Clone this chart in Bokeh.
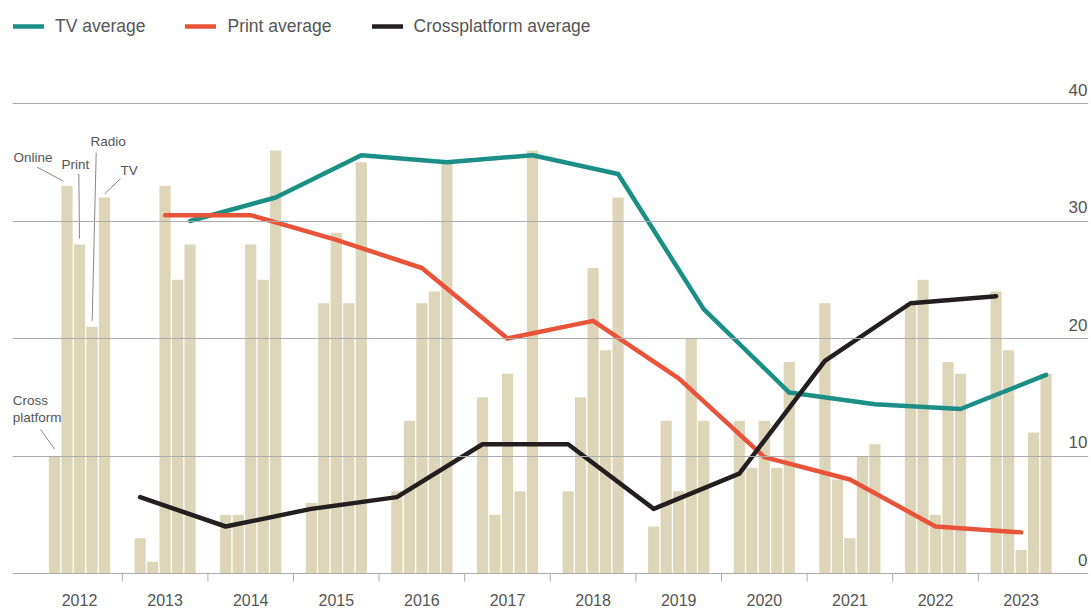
from bokeh.plotting import figure
from bokeh.models import (ColumnDataSource, Range1d, FixedTicker, Grid, Legend, LegendItem)
from bokeh.core.properties import value
from bokeh.embed import file_html
from bokeh.resources import INLINE

# ---------------- data ----------------
years = ["2012", "2013", "2014", "2015", "2016", "2017", "2018", "2019", "2020", "2021", "2022", "2023"]
categories = ["Cross platform", "Online", "Print", "Radio", "TV"]

cross_platform = [10, 3, 5, 6, 7, 15, 7, 4, 13, 23, 23, 24]
online = [33, 1, 5, 23, 13, 5, 15, 13, 9, 8, 25, 19]
print_vals = [28, 33, 28, 29, 23, 17, 26, 7, 13, 3, 5, 2]
radio = [21, 25, 25, 23, 24, 7, 19, 20, 9, 10, 18, 12]
tv = [32, 28, 36, 35, 35, 36, 32, 13, 18, 11, 17, 17]

line_years = ["2013", "2014", "2015", "2016", "2017", "2018", "2019", "2020", "2021", "2022", "2023"]
tv_average = [30.0, 32.0, 35.6, 35.0, 35.6, 34.0, 22.5, 15.4, 14.4, 14.0, 16.9]
print_average = [30.5, 30.5, 28.4, 26.0, 20.0, 21.5, 16.6, 9.9, 8.0, 4.0, 3.5]
crossplatform_average = [6.5, 4.0, 5.5, 6.5, 11.0, 11.0, 5.5, 8.5, 18.1, 23.0, 23.6]

y_ticks = [0, 10, 20, 30, 40]
y_tick_labels = ["0", "10", "20", "30", "40"]

# ---------------- styles ----------------
BAR = "#ddd5b8"
GRID = "#ababab"
TXT = "#555555"
TEAL = "#1b8f85"
RED = "#e9533a"
BLACK = "#231f20"
FONT = "Liberation Sans"

W, H = 1091, 611
LEFT, RIGHT = 12, 3
px_per_year = 85.6
x_center0 = 79                       # canvas x of first year centre
x0 = (LEFT - x_center0) / px_per_year
x1 = (W - RIGHT - x_center0) / px_per_year
base_px, top_px = 573, 103           # canvas y of 0 and 40
scale = (base_px - top_px) / 40.0
y_top = 40 + top_px / scale
y_bot = -(H - base_px) / scale

p = figure(width=W, height=H, output_backend="svg", toolbar_location=None,
           x_range=Range1d(x0, x1), y_range=Range1d(y_bot, y_top),
           x_axis_location=None, y_axis_location=None,
           min_border_left=LEFT, min_border_right=RIGHT, min_border_top=0, min_border_bottom=0)
p.outline_line_color = None
p.background_fill_color = "white"
p.border_fill_color = "white"
for g in p.grid:
    g.visible = False

# ---------------- bars ----------------
step = 12.5 / px_per_year
bw = 11.2 / px_per_year
series = [cross_platform, online, print_vals, radio, tv]
for k, vals in enumerate(series):
    off = (k - 2) * step
    src = ColumnDataSource(dict(x=[i + off for i in range(len(years))], top=vals))
    p.vbar(x="x", top="top", bottom=0, width=bw, source=src, fill_color=BAR, line_color=None)

# ---------------- grid (over bars) ----------------
grid = Grid(dimension=1, ticker=FixedTicker(ticks=y_ticks), grid_line_color=GRID, grid_line_width=1)
grid.level = "glyph"
p.add_layout(grid)

# x ticks at year boundaries
bounds = [i + 0.5 for i in range(len(years) - 1)]
p.segment(x0=bounds, y0=[0] * len(bounds), x1=bounds, y1=[-8 / scale] * len(bounds),
          line_color=GRID, line_width=1)

# year labels
p.text(x=list(range(len(years))), y=[-26 / scale] * len(years), text=years,
       text_align="center", text_baseline="middle", text_color=TXT,
       text_font=value(FONT), text_font_size="16px")

# y tick labels (right, above gridlines)
p.text(x=[x1] * len(y_ticks), y=[t + 14 / scale for t in y_ticks], text=y_tick_labels,
       x_offset=-1, text_align="right", text_baseline="middle", text_color=TXT,
       text_font=value(FONT), text_font_size="17px")

# ---------------- lines ----------------
def lx(off_k):
    return [years.index(y) + (off_k - 2) * step for y in line_years]

r_tv = p.line(lx(4), tv_average, line_color=TEAL, line_width=4.5, line_join="round", line_cap="round")
r_pr = p.line(lx(2), print_average, line_color=RED, line_width=4.5, line_join="round", line_cap="round")
r_cp = p.line(lx(0), crossplatform_average, line_color=BLACK, line_width=4.5, line_join="round", line_cap="round")

# ---------------- annotations ----------------
ann_text = ["Online", "Print", "Radio", "TV", "Cross", "platform"]
ann_x = [-0.771, -0.21, 0.128, 0.479, -0.78, -0.78]
ann_y = [35.4, 34.8, 36.8, 34.3, 14.7, 13.3]
p.text(x=ann_x, y=ann_y, text=ann_text, text_align="left", text_baseline="middle",
       text_color=TXT, text_font=value(FONT), text_font_size="13.5px")
lead_x0 = [-0.494, -0.008, 0.195, 0.479, -0.456]
lead_y0 = [34.58, 34.0, 35.8, 33.6, 12.26]
lead_x1 = [-0.19, 0.0, 0.148, 0.292, -0.292]
lead_y1 = [33.4, 28.5, 21.5, 32.3, 10.6]
p.segment(x0=lead_x0, y0=lead_y0, x1=lead_x1, y1=lead_y1, line_color="#888888", line_width=1)

# ---------------- legend ----------------
legend = Legend(items=[LegendItem(label="TV average", renderers=[r_tv]),
                       LegendItem(label="Print average", renderers=[r_pr]),
                       LegendItem(label="Crossplatform average", renderers=[r_cp])],
                orientation="horizontal", location="top_left")
legend.margin = 1
legend.padding = 4
legend.spacing = 40
legend.glyph_width = 31
legend.glyph_height = 50
legend.label_height = 50
legend.label_standoff = 11
legend.label_text_font = FONT
legend.label_text_font_size = "17.5px"
legend.label_text_color = TXT
legend.border_line_color = None
legend.background_fill_alpha = 0
p.add_layout(legend)

open("out.html", "w").write(file_html(p, INLINE))
